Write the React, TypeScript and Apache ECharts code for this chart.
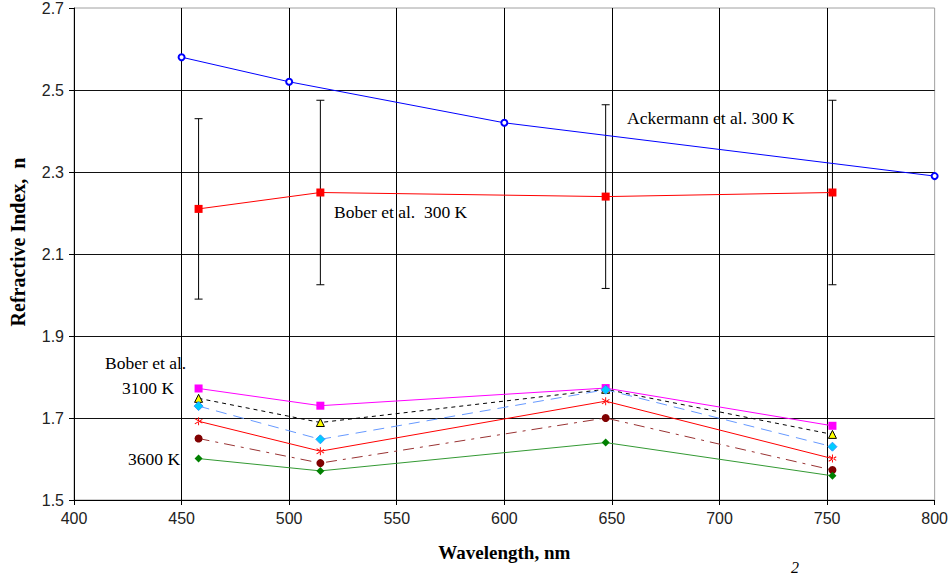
import React, { useEffect, useRef } from "react";
import * as echarts from "echarts";

// ---- data ----
const ackermannWavelength = [450, 500, 600, 800];
const ackermannN = [2.58, 2.52, 2.42, 2.29];

const boberWavelength = [457.9, 514.5, 647.1, 752.5];
const bober300N = [2.21, 2.25, 2.24, 2.25];
const bober300Err = [0.22, 0.225, 0.224, 0.225];

const bober3100N = [1.772, 1.73, 1.773, 1.681];
const bober3200N = [1.748, 1.689, 1.77, 1.66];
const bober3300N = [1.729, 1.648, 1.769, 1.63];
const bober3400N = [1.692, 1.619, 1.741, 1.601];
const bober3500N = [1.65, 1.59, 1.7, 1.573];
const bober3600N = [1.601, 1.571, 1.64, 1.559];

const xTicks = { min: 400, max: 800, step: 50 };
const yTicks = { min: 1.5, max: 2.7, step: 0.2 };

const SERIF = "'Liberation Serif', 'Times New Roman', serif";
const SANS = "'Liberation Sans', Arial, sans-serif";

const starPath =
  "path://M4.4,0 L5.6,0 L5.6,10 L4.4,10 Z M0,2.2 L0.6,1.2 L10,6.8 L9.4,7.8 Z M0,7.8 L0.6,8.8 L10,3.2 L9.4,2.2 Z";

const pairs = (xs: number[], ys: number[]) => xs.map((x, i) => [x, ys[i]]);

export default function App() {
  const ref = useRef<HTMLDivElement>(null);

  useEffect(() => {
    if (!ref.current) return;
    const chart = echarts.init(ref.current, null, { renderer: "svg" });

    const errData = boberWavelength.map((w, i) => [
      w,
      bober300N[i] - bober300Err[i],
      bober300N[i] + bober300Err[i],
    ]);

    const lowSeries = (
      name: string,
      data: number[],
      symbol: string,
      symbolSize: number,
      markerColor: string,
      lineColor: string,
      lineType: any,
      borderColor?: string
    ) => ({
      type: "line",
      name,
      data: pairs(boberWavelength, data),
      symbol,
      symbolSize,
      z: 5,
      itemStyle: {
        color: markerColor,
        borderColor: borderColor || markerColor,
        borderWidth: borderColor ? 1 : 0,
      },
      lineStyle: { color: lineColor, width: 1, type: lineType },
    });

    const annotation = (text: string, x: number, y: number) => ({
      type: "text",
      x,
      y,
      style: {
        text,
        fontFamily: SERIF,
        fontSize: 17.5,
        fill: "#000",
        verticalAlign: "middle",
      },
    });

    chart.setOption({
      animation: false,
      grid: {
        left: 74,
        right: 16,
        top: 7,
        bottom: 78,
        show: true,
        borderColor: "#a0a0a0",
        borderWidth: 1,
        backgroundColor: "#fff",
      },
      xAxis: {
        type: "value",
        min: xTicks.min,
        max: xTicks.max,
        interval: xTicks.step,
        axisLine: { show: true, onZero: false, lineStyle: { color: "#000", width: 1 } },
        axisTick: { show: true, inside: false, length: 5, lineStyle: { color: "#000" } },
        axisLabel: { color: "#222", fontFamily: SANS, fontSize: 16, margin: 10 },
        splitLine: {
          show: true,
          showMinLine: false,
          showMaxLine: false,
          lineStyle: { color: "#000", width: 1 },
        },
        name: "Wavelength, nm",
        nameLocation: "middle",
        nameGap: 43,
        nameTextStyle: { fontFamily: SERIF, fontWeight: "bold", fontSize: 19, color: "#000" },
      },
      yAxis: {
        type: "value",
        min: yTicks.min,
        max: yTicks.max,
        interval: yTicks.step,
        axisLine: { show: true, onZero: false, lineStyle: { color: "#000", width: 1 } },
        axisTick: { show: true, inside: false, length: 5, lineStyle: { color: "#000" } },
        axisLabel: {
          color: "#222",
          fontFamily: SANS,
          fontSize: 16,
          margin: 10,
          formatter: (v: number) => v.toFixed(1),
        },
        splitLine: {
          show: true,
          showMinLine: false,
          showMaxLine: false,
          lineStyle: { color: "#111", width: 1 },
        },
      },
      graphic: [
        {
          type: "text",
          x: 18,
          y: 242,
          rotation: Math.PI / 2,
          style: {
            text: "Refractive Index,  n",
            fontFamily: SERIF,
            fontWeight: "bold",
            fontSize: 20,
            fill: "#000",
            align: "center",
            verticalAlign: "middle",
          },
        },
        annotation("Ackermann et al. 300 K", 627, 118),
        annotation("Bober et al.  300 K", 334, 212),
        annotation("Bober et al.", 105, 363),
        annotation("3100 K", 122, 388),
        annotation("3600 K", 128, 459),
        {
          type: "text",
          x: 795,
          y: 567,
          style: {
            text: "2",
            fontFamily: SERIF,
            fontStyle: "italic",
            fontSize: 16,
            fill: "#000",
            align: "center",
            verticalAlign: "middle",
          },
        },
      ],
      series: [
        {
          type: "custom",
          name: "error bars",
          z: 3,
          data: errData,
          renderItem: (params: any, api: any) => {
            const x = api.value(0);
            const top = api.coord([x, api.value(2)]);
            const bot = api.coord([x, api.value(1)]);
            const cap = 4;
            const st = { stroke: "#000", lineWidth: 1 };
            return {
              type: "group",
              children: [
                { type: "line", shape: { x1: top[0], y1: top[1], x2: bot[0], y2: bot[1] }, style: st },
                { type: "line", shape: { x1: top[0] - cap, y1: top[1], x2: top[0] + cap, y2: top[1] }, style: st },
                { type: "line", shape: { x1: bot[0] - cap, y1: bot[1], x2: bot[0] + cap, y2: bot[1] }, style: st },
              ],
            };
          },
        },
        {
          type: "line",
          name: "Ackermann et al. 300 K",
          data: pairs(ackermannWavelength, ackermannN),
          symbol: "emptyCircle",
          symbolSize: 6,
          z: 5,
          itemStyle: { color: "#0000ff", borderColor: "#0000ff", borderWidth: 1 },
          lineStyle: { color: "#0000ff", width: 1 },
        },
        {
          type: "line",
          name: "Bober et al. 300 K",
          data: pairs(boberWavelength, bober300N),
          symbol: "rect",
          symbolSize: 8,
          z: 5,
          itemStyle: { color: "#ff0000" },
          lineStyle: { color: "#ff0000", width: 1 },
        },
        lowSeries("3100 K", bober3100N, "rect", 8, "#ff00ff", "#ff00ff", "solid"),
        lowSeries("3200 K", bober3200N, "triangle", 8, "#ffff00", "#000000", [4, 4], "#000000"),
        lowSeries("3300 K", bober3300N, "diamond", 9, "#00ccff", "#6699ff", [11, 7], "#3399ff"),
        lowSeries("3400 K", bober3400N, starPath, 8, "#ff0000", "#ff0000", "solid"),
        lowSeries("3500 K", bober3500N, "circle", 8, "#800000", "#993333", [11, 6, 3, 6]),
        lowSeries("3600 K", bober3600N, "diamond", 8, "#008000", "#339933", "solid"),
      ],
    });

    return () => chart.dispose();
  }, []);

  return (
    <div
      ref={ref}
      style={{ position: "absolute", left: 0, top: 0, width: 951, height: 578, background: "#fff" }}
    />
  );
}
